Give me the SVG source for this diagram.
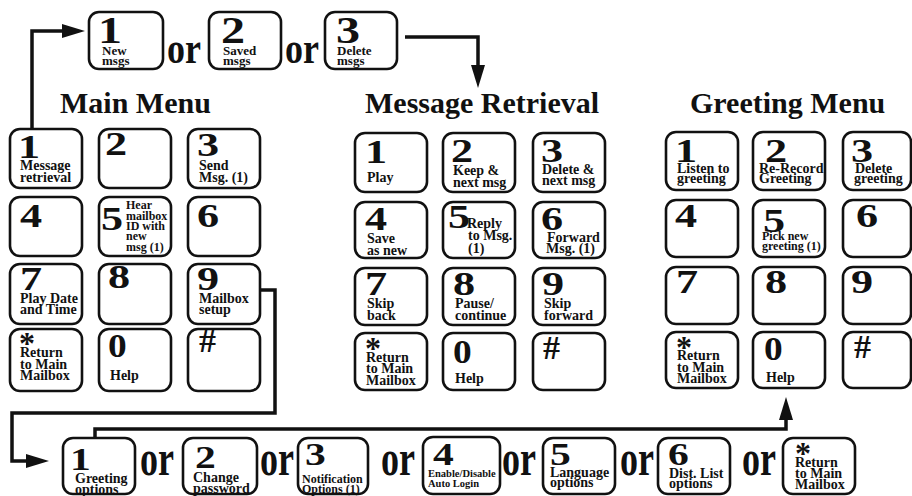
<svg xmlns="http://www.w3.org/2000/svg" width="912" height="496" viewBox="0 0 912 496">
  <defs>
    <marker id="head" markerUnits="userSpaceOnUse" markerWidth="24" markerHeight="14" refX="0" refY="7" orient="auto" overflow="visible">
      <path d="M0,0 L23,7 L0,14 Z" fill="#111"/>
    </marker>
  </defs>
  <style>
    text { font-family: "Liberation Serif", "Times New Roman", serif; font-weight: bold; fill: #111; }
    .key { fill: #fff; stroke: #111; stroke-width: 2.6; }
    .d { font-size: 34px; }
    .dt { font-size: 37px; }
    .db { font-size: 32px; }
    .l { font-size: 14px; }
    .lt { font-size: 13px; }
    .s { font-size: 12px; }
    .xs { font-size: 10.5px; }
    .st { font-size: 32px; }
    .title { font-size: 30px; }
    .or { font-size: 36px; }
    .wire { fill: none; stroke: #111; stroke-width: 3.5; stroke-linejoin: miter; }
  </style>

  <rect width="912" height="496" fill="#fff"/>

  <!-- menu headings -->
  <g id="title-main"><text class="title" x="60" y="113">Main Menu</text></g>
  <g id="title-retrieval"><text class="title" x="365" y="113">Message Retrieval</text></g>
  <g id="title-greeting"><text class="title" x="690" y="113">Greeting Menu</text></g>

  <!-- connectors -->
  <g id="connectors">
    <path class="wire" d="M32,129 V31 H62" marker-end="url(#head)"/>
    <path class="wire" d="M405,37 H478 V65" marker-end="url(#head)"/>
    <path class="wire" d="M260,290 H275 V413 H12 V461 H26" marker-end="url(#head)"/>
    <path class="wire" d="M95,438 V429 H786 V420" marker-end="url(#head)"/>
  </g>

  <!-- retrieval choices -->
  <g id="top-1"><rect class="key" x="89" y="12" width="74" height="57" rx="10"/>
    <text class="dt" transform="translate(98,43) scale(1.3,1)">1</text>
    <text class="lt" x="102" y="55">New</text><text class="lt" x="102" y="65">msgs</text></g>
  <g id="top-or-1"><text class="or" transform="translate(167,63) scale(1,1.22)">or</text></g>
  <g id="top-2"><rect class="key" x="209" y="12" width="72" height="57" rx="10"/>
    <text class="dt" transform="translate(221,43) scale(1.3,1)">2</text>
    <text class="lt" x="223" y="55">Saved</text><text class="lt" x="223" y="65">msgs</text></g>
  <g id="top-or-2"><text class="or" transform="translate(285,63) scale(1,1.22)">or</text></g>
  <g id="top-3"><rect class="key" x="325" y="12" width="72" height="57" rx="10"/>
    <text class="dt" transform="translate(336,43) scale(1.3,1)">3</text>
    <text class="lt" x="337" y="55">Delete</text><text class="lt" x="337" y="65">msgs</text></g>

  <!-- Main Menu keypad -->
  <g id="main-1"><rect class="key" x="10" y="129" width="72" height="59" rx="10"/>
    <text class="d" transform="translate(18,158) scale(1.3,1)">1</text>
    <text class="l" x="20" y="170">Message</text><text class="l" x="20" y="182">retrieval</text></g>
  <g id="main-2"><rect class="key" x="99" y="129" width="72" height="59" rx="10"/>
    <text class="d" transform="translate(105,155) scale(1.3,1)">2</text></g>
  <g id="main-3"><rect class="key" x="188" y="129" width="72" height="59" rx="10"/>
    <text class="d" transform="translate(197,156) scale(1.3,1)">3</text>
    <text class="l" x="199" y="170">Send</text><text class="l" x="199" y="182">Msg. (1)</text></g>
  <g id="main-4"><rect class="key" x="10" y="197" width="72" height="59" rx="10"/>
    <text class="d" transform="translate(20,227) scale(1.3,1)">4</text></g>
  <g id="main-5"><rect class="key" x="99" y="197" width="72" height="59" rx="10"/>
    <text class="d" transform="translate(101,230) scale(1.3,1)">5</text>
    <text class="s" x="126" y="209">Hear</text><text class="s" x="126" y="220">mailbox</text>
    <text class="s" x="126" y="230">ID with</text><text class="s" x="126" y="240">new</text>
    <text class="s" x="126" y="251">msg (1)</text></g>
  <g id="main-6"><rect class="key" x="188" y="197" width="72" height="59" rx="10"/>
    <text class="d" transform="translate(197,227) scale(1.3,1)">6</text></g>
  <g id="main-7"><rect class="key" x="10" y="264" width="72" height="60" rx="10"/>
    <text class="d" transform="translate(20,290) scale(1.3,1)">7</text>
    <text class="l" x="20" y="303">Play Date</text><text class="l" x="20" y="314">and Time</text></g>
  <g id="main-8"><rect class="key" x="99" y="264" width="72" height="60" rx="10"/>
    <text class="d" transform="translate(108,288) scale(1.3,1)">8</text></g>
  <g id="main-9"><rect class="key" x="188" y="264" width="72" height="60" rx="10"/>
    <text class="d" transform="translate(197,290) scale(1.3,1)">9</text>
    <text class="l" x="199" y="303">Mailbox</text><text class="l" x="199" y="314">setup</text></g>
  <g id="main-star"><rect class="key" x="10" y="329" width="72" height="62" rx="10"/>
    <text class="st" x="19" y="354">*</text>
    <text class="l" x="20" y="357">Return</text><text class="l" x="20" y="369">to Main</text><text class="l" x="20" y="380">Mailbox</text></g>
  <g id="main-0"><rect class="key" x="99" y="329" width="72" height="62" rx="10"/>
    <text class="d" transform="translate(108,357) scale(1.1,1)">0</text>
    <text class="l" x="110" y="380">Help</text></g>
  <g id="main-hash"><rect class="key" x="188" y="329" width="72" height="62" rx="10"/>
    <text class="d" x="199" y="352">#</text></g>

  <!-- Message Retrieval keypad -->
  <g id="mr-1"><rect class="key" x="355" y="133" width="72" height="59" rx="10"/>
    <text class="d" transform="translate(365,163) scale(1.3,1)">1</text>
    <text class="l" x="367" y="182">Play</text></g>
  <g id="mr-2"><rect class="key" x="443" y="133" width="72" height="59" rx="10"/>
    <text class="d" transform="translate(451,162) scale(1.3,1)">2</text>
    <text class="l" x="453" y="175">Keep &amp;</text><text class="l" x="453" y="187">next msg</text></g>
  <g id="mr-3"><rect class="key" x="533" y="133" width="72" height="59" rx="10"/>
    <text class="d" transform="translate(541,162) scale(1.3,1)">3</text>
    <text class="l" x="542" y="174">Delete &amp;</text><text class="l" x="542" y="185">next msg</text></g>
  <g id="mr-4"><rect class="key" x="355" y="202" width="72" height="56" rx="10"/>
    <text class="d" transform="translate(365,230) scale(1.3,1)">4</text>
    <text class="l" x="367" y="243">Save</text><text class="l" x="367" y="255">as new</text></g>
  <g id="mr-5"><rect class="key" x="443" y="202" width="72" height="56" rx="10"/>
    <text class="d" transform="translate(448,228) scale(1.3,1)">5</text>
    <text class="l" x="467" y="228">Reply</text><text class="l" x="468" y="240">to Msg.</text><text class="l" x="468" y="253">(1)</text></g>
  <g id="mr-6"><rect class="key" x="533" y="202" width="72" height="56" rx="10"/>
    <text class="d" transform="translate(541,230) scale(1.3,1)">6</text>
    <text class="l" x="547" y="242">Forward</text><text class="l" x="546" y="253">Msg. (1)</text></g>
  <g id="mr-7"><rect class="key" x="355" y="268" width="72" height="57" rx="10"/>
    <text class="d" transform="translate(365,295) scale(1.3,1)">7</text>
    <text class="l" x="367" y="308">Skip</text><text class="l" x="367" y="320">back</text></g>
  <g id="mr-8"><rect class="key" x="443" y="268" width="72" height="57" rx="10"/>
    <text class="d" transform="translate(453,295) scale(1.3,1)">8</text>
    <text class="l" x="455" y="308">Pause/</text><text class="l" x="455" y="320">continue</text></g>
  <g id="mr-9"><rect class="key" x="533" y="268" width="72" height="57" rx="10"/>
    <text class="d" transform="translate(542,295) scale(1.3,1)">9</text>
    <text class="l" x="544" y="308">Skip</text><text class="l" x="544" y="320">forward</text></g>
  <g id="mr-star"><rect class="key" x="355" y="333" width="72" height="57" rx="10"/>
    <text class="st" x="365" y="359">*</text>
    <text class="l" x="366" y="362">Return</text><text class="l" x="366" y="373">to Main</text><text class="l" x="366" y="385">Mailbox</text></g>
  <g id="mr-0"><rect class="key" x="443" y="333" width="72" height="57" rx="10"/>
    <text class="d" transform="translate(453,363) scale(1.1,1)">0</text>
    <text class="l" x="455" y="383">Help</text></g>
  <g id="mr-hash"><rect class="key" x="533" y="333" width="72" height="57" rx="10"/>
    <text class="d" x="543" y="359">#</text></g>

  <!-- Greeting Menu keypad -->
  <g id="gr-1"><rect class="key" x="666" y="132" width="72" height="58" rx="10"/>
    <text class="d" transform="translate(675,162) scale(1.3,1)">1</text>
    <text class="l" x="677" y="173">Listen to</text><text class="l" x="677" y="183">greeting</text></g>
  <g id="gr-2"><rect class="key" x="753" y="132" width="72" height="58" rx="10"/>
    <text class="d" transform="translate(765,162) scale(1.3,1)">2</text>
    <text class="l" x="759" y="173">Re-Record</text><text class="l" x="759" y="183">Greeting</text></g>
  <g id="gr-3"><rect class="key" x="843" y="132" width="68" height="58" rx="10"/>
    <text class="d" transform="translate(851,162) scale(1.3,1)">3</text>
    <text class="l" x="855" y="173">Delete</text><text class="l" x="854" y="183">greeting</text></g>
  <g id="gr-4"><rect class="key" x="666" y="200" width="72" height="57" rx="10"/>
    <text class="d" transform="translate(675,227) scale(1.3,1)">4</text></g>
  <g id="gr-5"><rect class="key" x="753" y="200" width="72" height="57" rx="10"/>
    <text class="d" transform="translate(763,232) scale(1.3,1)">5</text>
    <text class="s" x="762" y="240">Pick new</text><text class="s" x="762" y="250">greeting (1)</text></g>
  <g id="gr-6"><rect class="key" x="843" y="200" width="68" height="57" rx="10"/>
    <text class="d" transform="translate(856,227) scale(1.3,1)">6</text></g>
  <g id="gr-7"><rect class="key" x="666" y="267" width="72" height="57" rx="10"/>
    <text class="d" transform="translate(676,293) scale(1.3,1)">7</text></g>
  <g id="gr-8"><rect class="key" x="753" y="267" width="72" height="57" rx="10"/>
    <text class="d" transform="translate(765,293) scale(1.3,1)">8</text></g>
  <g id="gr-9"><rect class="key" x="843" y="267" width="68" height="57" rx="10"/>
    <text class="d" transform="translate(851,293) scale(1.3,1)">9</text></g>
  <g id="gr-star"><rect class="key" x="666" y="332" width="72" height="56" rx="10"/>
    <text class="st" x="676" y="358">*</text>
    <text class="l" x="677" y="360">Return</text><text class="l" x="677" y="372">to Main</text><text class="l" x="677" y="383">Mailbox</text></g>
  <g id="gr-0"><rect class="key" x="753" y="332" width="72" height="56" rx="10"/>
    <text class="d" transform="translate(764,360) scale(1.1,1)">0</text>
    <text class="l" x="766" y="382">Help</text></g>
  <g id="gr-hash"><rect class="key" x="843" y="332" width="68" height="56" rx="10"/>
    <text class="d" x="854" y="358">#</text></g>

  <!-- mailbox setup choices -->
  <g id="setup-1"><rect class="key" x="63" y="438" width="72" height="56" rx="10"/>
    <text class="db" transform="translate(70,470) scale(1.3,1)">1</text>
    <text class="l" x="75" y="483">Greeting</text><text class="l" x="75" y="494">options</text></g>
  <g id="setup-or-1"><text class="or" transform="translate(140,475) scale(1,1.4)">or</text></g>
  <g id="setup-2"><rect class="key" x="183" y="438" width="74" height="56" rx="10"/>
    <text class="db" transform="translate(195,468) scale(1.3,1)">2</text>
    <text class="l" x="193" y="482">Change</text><text class="l" x="193" y="493">password</text></g>
  <g id="setup-or-2"><text class="or" transform="translate(260,475) scale(1,1.4)">or</text></g>
  <g id="setup-3"><rect class="key" x="298" y="438" width="70" height="56" rx="10"/>
    <text class="db" transform="translate(305,465) scale(1.3,1)">3</text>
    <text class="s" x="302" y="483">Notification</text><text class="s" x="302" y="493">Options (1)</text></g>
  <g id="setup-or-3"><text class="or" transform="translate(381,475) scale(1,1.4)">or</text></g>
  <g id="setup-4"><rect class="key" x="423" y="437" width="77" height="57" rx="10"/>
    <text class="db" transform="translate(433,465) scale(1.3,1)">4</text>
    <text class="xs" x="428" y="477">Enable/Disable</text><text class="xs" x="428" y="487">Auto Login</text></g>
  <g id="setup-or-4"><text class="or" transform="translate(502,475) scale(1,1.4)">or</text></g>
  <g id="setup-5"><rect class="key" x="543" y="438" width="72" height="56" rx="10"/>
    <text class="db" transform="translate(550,465) scale(1.3,1)">5</text>
    <text class="l" x="550" y="477">Language</text><text class="l" x="550" y="487">options</text></g>
  <g id="setup-or-5"><text class="or" transform="translate(620,475) scale(1,1.4)">or</text></g>
  <g id="setup-6"><rect class="key" x="658" y="438" width="72" height="56" rx="10"/>
    <text class="db" transform="translate(668,465) scale(1.3,1)">6</text>
    <text class="l" x="669" y="478">Dist. List</text><text class="l" x="669" y="488">options</text></g>
  <g id="setup-or-6"><text class="or" transform="translate(742,475) scale(1,1.4)">or</text></g>
  <g id="setup-star"><rect class="key" x="783" y="438" width="72" height="56" rx="10"/>
    <text class="st" x="795" y="464">*</text>
    <text class="l" x="795" y="467">Return</text><text class="l" x="795" y="478">to Main</text><text class="l" x="795" y="489">Mailbox</text></g>
</svg>
